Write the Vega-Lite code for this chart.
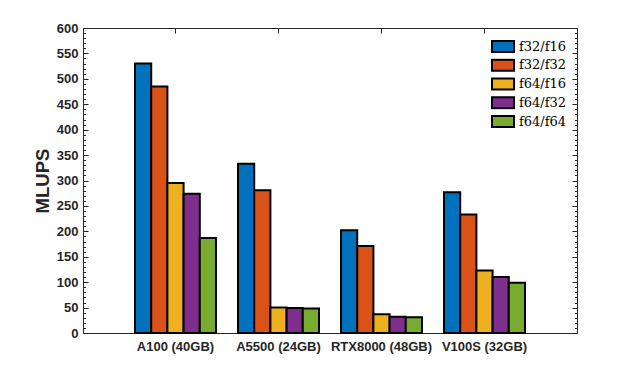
{
  "$schema": "https://vega.github.io/schema/vega-lite/v6.json",
  "width": 494,
  "height": 305,
  "autosize": {"type": "none"},
  "padding": {"left": 83, "top": 28, "right": 61, "bottom": 42},
  "background": "white",
  "config": {
    "view": {"stroke": null},
    "axis": {
      "labelFont": "Liberation Sans",
      "labelFontWeight": "bold",
      "labelFontSize": 13,
      "labelColor": "#262626",
      "domainColor": "#262626",
      "tickColor": "#262626",
      "domainWidth": 1,
      "tickWidth": 1,
      "grid": false,
      "titleFont": "Liberation Sans"
    }
  },
  "data": {
    "values": [
      {"gpu": "A100 (40GB)", "prec": "f32/f16", "mlups": 530},
      {"gpu": "A100 (40GB)", "prec": "f32/f32", "mlups": 485},
      {"gpu": "A100 (40GB)", "prec": "f64/f16", "mlups": 295},
      {"gpu": "A100 (40GB)", "prec": "f64/f32", "mlups": 274},
      {"gpu": "A100 (40GB)", "prec": "f64/f64", "mlups": 187},
      {"gpu": "A5500 (24GB)", "prec": "f32/f16", "mlups": 333},
      {"gpu": "A5500 (24GB)", "prec": "f32/f32", "mlups": 281},
      {"gpu": "A5500 (24GB)", "prec": "f64/f16", "mlups": 50},
      {"gpu": "A5500 (24GB)", "prec": "f64/f32", "mlups": 49},
      {"gpu": "A5500 (24GB)", "prec": "f64/f64", "mlups": 48},
      {"gpu": "RTX8000 (48GB)", "prec": "f32/f16", "mlups": 202},
      {"gpu": "RTX8000 (48GB)", "prec": "f32/f32", "mlups": 171},
      {"gpu": "RTX8000 (48GB)", "prec": "f64/f16", "mlups": 37},
      {"gpu": "RTX8000 (48GB)", "prec": "f64/f32", "mlups": 32},
      {"gpu": "RTX8000 (48GB)", "prec": "f64/f64", "mlups": 31},
      {"gpu": "V100S (32GB)", "prec": "f32/f16", "mlups": 277},
      {"gpu": "V100S (32GB)", "prec": "f32/f32", "mlups": 233},
      {"gpu": "V100S (32GB)", "prec": "f64/f16", "mlups": 123},
      {"gpu": "V100S (32GB)", "prec": "f64/f32", "mlups": 110},
      {"gpu": "V100S (32GB)", "prec": "f64/f64", "mlups": 99}
    ]
  },
  "layer": [
    {
      "mark": {"type": "bar", "stroke": "black", "strokeWidth": 2},
      "encoding": {
        "x": {
          "field": "gpu", "type": "nominal",
          "sort": ["A100 (40GB)", "A5500 (24GB)", "RTX8000 (48GB)", "V100S (32GB)"],
          "scale": {"paddingInner": 0.214, "paddingOuter": 0.505},
          "axis": {"orient": "bottom", "title": null, "labelAngle": 0, "ticks": false, "labelPadding": 7}
        },
        "xOffset": {
          "field": "prec", "type": "nominal",
          "sort": ["f32/f16", "f32/f32", "f64/f16", "f64/f32", "f64/f64"],
          "scale": {"paddingInner": 0, "paddingOuter": 0}
        },
        "y": {
          "field": "mlups", "type": "quantitative",
          "scale": {"domain": [0, 600], "nice": false},
          "axis": {
            "orient": "left",
            "title": "MLUPS",
            "values": [0,10,20,30,40,50,60,70,80,90,100,110,120,130,140,150,160,170,180,190,200,210,220,230,240,250,260,270,280,290,300,310,320,330,340,350,360,370,380,390,400,410,420,430,440,450,460,470,480,490,500,510,520,530,540,550,560,570,580,590,600],
            "labelExpr": "datum.value % 50 === 0 ? datum.label : ''",
            "labelOverlap": false,
            "labelFlush": false,
            "tickSize": {"condition": {"test": "datum.value % 50 === 0", "value": -5}, "value": -2.5},
            "labelPadding": 10,
            "titleFontSize": 18.5,
            "titleFontWeight": "bold",
            "titleColor": "#262626",
            "titleX": -35,
            "titleY": 152.5,
            "titleAngle": 270,
            "titleBaseline": "alphabetic",
            "titleAlign": "center"
          }
        },
        "color": {
          "field": "prec", "type": "nominal",
          "sort": ["f32/f16", "f32/f32", "f64/f16", "f64/f32", "f64/f64"],
          "scale": {
            "domain": ["f32/f16", "f32/f32", "f64/f16", "f64/f32", "f64/f64"],
            "range": ["#0072BD", "#D95319", "#EDB120", "#7E2F8E", "#77AC30"]
          },
          "legend": {
            "orient": "none",
            "legendX": 408,
            "legendY": 11.5,
            "title": null,
            "symbolType": "M-1,-0.5H1V0.5H-1Z",
            "symbolSize": 484,
            "symbolStrokeColor": "black",
            "symbolStrokeWidth": 2,
            "symbolOpacity": 1,
            "labelFont": "DejaVu Serif",
            "labelFontSize": 13,
            "labelColor": "black",
            "labelFontWeight": "normal",
            "labelOffset": 4,
            "clipHeight": 14,
            "rowPadding": 4.75,
            "padding": 0
          }
        }
      }
    },
    {
      "mark": {"type": "bar", "opacity": 0},
      "encoding": {
        "x": {
          "field": "gpu", "type": "nominal",
          "sort": ["A100 (40GB)", "A5500 (24GB)", "RTX8000 (48GB)", "V100S (32GB)"],
          "scale": {"paddingInner": 0.214, "paddingOuter": 0.505},
          "axis": {"orient": "top", "title": null, "labels": false, "tickSize": -5}
        },
        "y": {
          "field": "mlups", "type": "quantitative", "stack": null,
          "scale": {"domain": [0, 600], "nice": false},
          "axis": {
            "orient": "right",
            "title": null,
            "labels": false,
            "values": [0,10,20,30,40,50,60,70,80,90,100,110,120,130,140,150,160,170,180,190,200,210,220,230,240,250,260,270,280,290,300,310,320,330,340,350,360,370,380,390,400,410,420,430,440,450,460,470,480,490,500,510,520,530,540,550,560,570,580,590,600],
            "tickSize": {"condition": {"test": "datum.value % 50 === 0", "value": -5}, "value": -2.5}
          }
        }
      }
    }
  ],
  "resolve": {
    "scale": {"x": "independent", "y": "independent"},
    "axis": {"x": "independent", "y": "independent"}
  }
}
